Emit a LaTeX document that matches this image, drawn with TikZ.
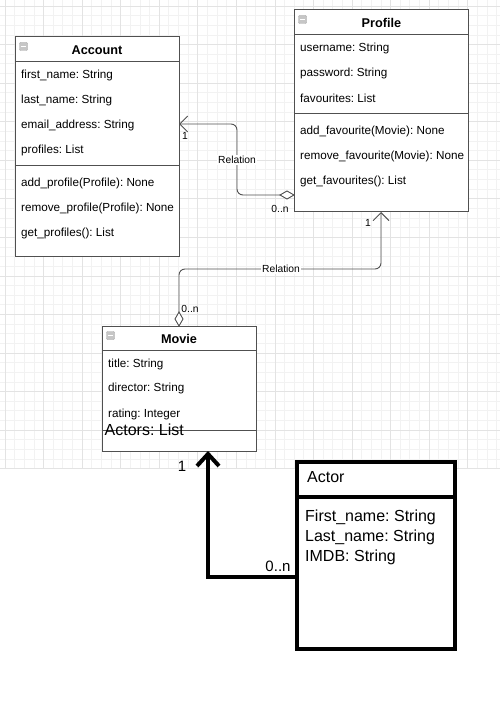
\documentclass[tikz,border=0pt]{standalone}
\usepackage{fontspec}
\setmainfont{Liberation Sans}
\usetikzlibrary{arrows.meta}
\definecolor{gridminor}{HTML}{F2F2F2}
\definecolor{gridmajor}{HTML}{E3E3E3}
\definecolor{boxline}{HTML}{505050}
\frenchspacing
\begin{document}
\begin{tikzpicture}[x=1pt,y=-1pt,
  umlbox/.style={draw=boxline,line width=1pt,fill=white},
  attr/.style={anchor=west,inner sep=0pt,font=\fontsize{11.7}{13}\selectfont},
  ttl/.style={inner sep=0pt,font=\fontsize{12.7}{14}\selectfont\bfseries},
  big/.style={anchor=west,inner sep=0pt,font=\fontsize{16}{18}\selectfont},
  lbl/.style={inner sep=0pt,font=\fontsize{10.3}{12}\selectfont},
  rel/.style={draw=boxline,line width=0.9pt,rounded corners=6pt},
  thick/.style={draw=black,line width=4pt}]
\useasboundingbox (0,0) rectangle (500,703);
% grid
\begin{scope}
\clip (0,0) rectangle (500,468);
\foreach \k in {0,...,51} {
  \draw[gridminor,line width=0.8pt] ({5+\k*9.64},0) -- ({5+\k*9.64},468);
}
\foreach \k in {0,...,48} {
  \draw[gridminor,line width=0.8pt] (0,{6+\k*9.64}) -- (500,{6+\k*9.64});
}
\foreach \k in {0,...,12} {
  \draw[gridmajor,line width=0.8pt] ({5+\k*38.56},0) -- ({5+\k*38.56},468);
}
\foreach \k in {0,...,12} {
  \draw[gridmajor,line width=0.8pt] (0,{6+\k*38.56}) -- (500,{6+\k*38.56});
}
\end{scope}

% Account
\draw[umlbox] (15,37) rectangle (179,256);
\node[coordinate] (accR) at (179,124) {};
\draw[boxline,line width=1pt] (15,62) -- (179,62);
\draw[boxline,line width=1pt] (15,166) -- (179,166);
\node[ttl] (accT) at (97,50) {Account};
\draw[fill=gray!45,draw=gray!70,rounded corners=1pt] (19.5,42.5) rectangle (27.5,50.5);
\draw[white,line width=0.8pt] (21,46.5) -- (26,46.5);
\node[attr] (a1) at (21,75) {first\_name: String};
\node[attr] (a2) at (21,100) {last\_name: String};
\node[attr] (a3) at (21,125) {email\_address: String};
\node[attr] (a4) at (21,150) {profiles: List};
\node[attr] (a5) at (21,183) {add\_profile(Profile): None};
\node[attr] (a6) at (21,208) {remove\_profile(Profile): None};
\node[attr] (a7) at (21,233) {get\_profiles(): List};

% Profile
\draw[umlbox] (294,10) rectangle (468,212);
\draw[boxline,line width=1pt] (294,35) -- (468,35);
\draw[boxline,line width=1pt] (294,114) -- (468,114);
\node[ttl] (proT) at (381.5,23) {Profile};
\draw[fill=gray!45,draw=gray!70,rounded corners=1pt] (298.5,15.5) rectangle (306.5,23.5);
\draw[white,line width=0.8pt] (300,19.5) -- (305,19.5);
\node[attr] (p1) at (300,48) {username: String};
\node[attr] (p2) at (300,73) {password: String};
\node[attr] (p3) at (300,98) {favourites: List};
\node[attr] (p4) at (300,131) {add\_favourite(Movie): None};
\node[attr] (p5) at (300,156) {remove\_favourite(Movie): None};
\node[attr] (p6) at (300,181) {get\_favourites(): List};
\node[coordinate] (proL) at (294,195) {};
\node[coordinate] (proB) at (381,212) {};

% Movie
\draw[umlbox] (102,326) rectangle (256,451);
\draw[boxline,line width=1pt] (102,350) -- (256,350);
\draw[boxline,line width=1pt] (102,430) -- (256,430);
\node[ttl] (movT) at (179,339) {Movie};
\draw[fill=gray!45,draw=gray!70,rounded corners=1pt] (106.5,331.5) rectangle (114.5,339.5);
\draw[white,line width=0.8pt] (108,335.5) -- (113,335.5);
\node[attr] (m1) at (108,364.5) {title: String};
\node[attr] (m2) at (108,388.5) {director: String};
\node[attr] (m3) at (108,414) {rating: Integer};
\node[big] (m4) at (104.5,430) {Actors: List};
\node[coordinate] (movT0) at (179,326) {};
\node[coordinate] (movB) at (208,451) {};

% Actor
\draw[thick,fill=white] (297,462) rectangle (455,649);
\draw[thick] (297,497) -- (455,497);
\node[big] (actT) at (307,477) {Actor};
\node[big] (c1) at (305,517) {First\_name: String};
\node[big] (c2) at (305,537) {Last\_name: String};
\node[big] (c3) at (305,557) {IMDB: String};
\node[coordinate] (actL) at (297,577) {};

% Relation Profile -> Account
\draw[rel,-{Straight Barb[length=8pt,width=16pt,line width=0.9pt]}] (proL) -- ++(-14,0) -- (237,195) -- (237,124) -- (accR);
\draw[boxline,line width=0.9pt,fill=white] (294,195) -- (287,191) -- (280,195) -- (287,199) -- cycle;
\node[lbl,fill=white,inner sep=1pt] (r1) at (237,160) {Relation};
\node[lbl] (l1) at (185,136) {1};
\node[lbl] (l2) at (280,209) {0..n};

% Relation Movie -> Profile
\draw[rel,-{Straight Barb[length=8pt,width=16pt,line width=0.9pt]}] (179,312) -- (179,269) -- (381,269) -- (proB);
\draw[boxline,line width=0.9pt,fill=white] (movT0) -- (175,319) -- (179,312) -- (183,319) -- cycle;
\node[lbl,fill=white,inner sep=1pt] (r2) at (281,269) {Relation};
\node[lbl] (l3) at (190,309) {0..n};
\node[lbl] (l4) at (368,223) {1};

% Actor -> Movie thick
\draw[thick,line cap=butt,-{Straight Barb[length=12pt,width=22pt,line width=4pt]}] (actL) -- (208,577) -- (movB);
\node[inner sep=0pt,font=\fontsize{15}{17}\selectfont] (l5) at (278,566) {0..n};
\node[inner sep=0pt,font=\fontsize{15}{17}\selectfont] (l6) at (182,466) {1};
\end{tikzpicture}
\end{document}
